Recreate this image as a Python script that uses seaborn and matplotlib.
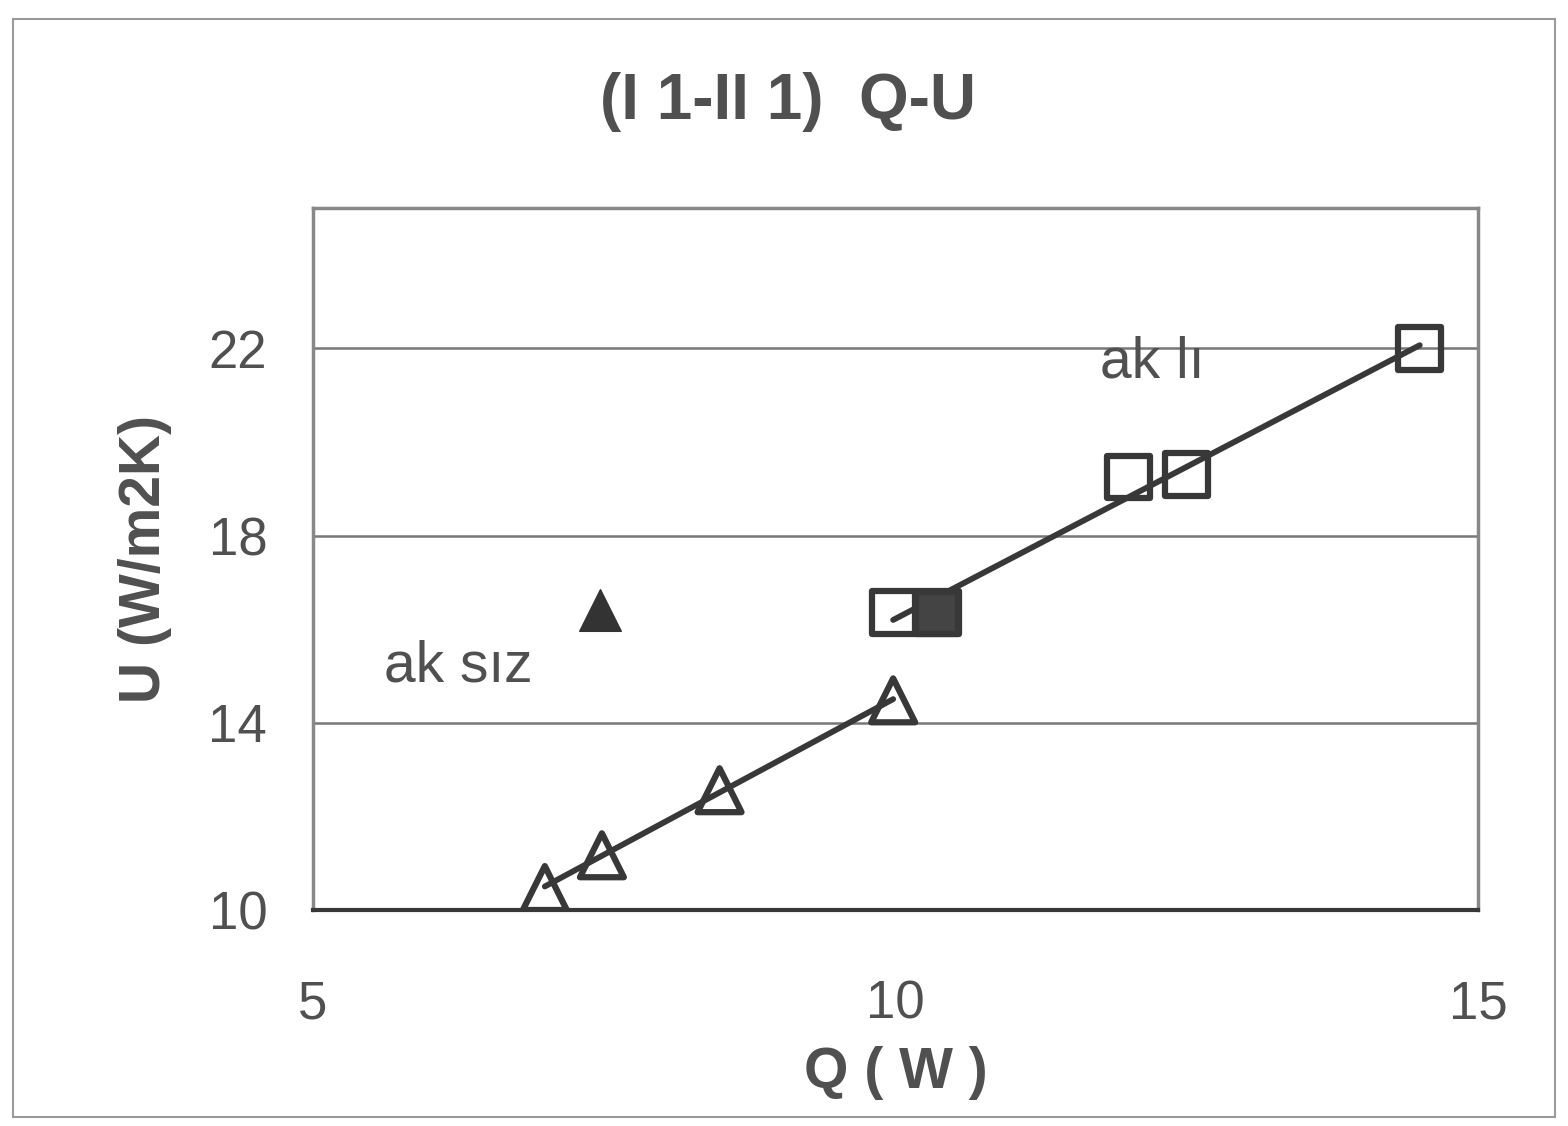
import matplotlib
matplotlib.use("Agg")
import matplotlib.pyplot as plt
import seaborn as sns
from matplotlib.patches import Rectangle

# series
tri_q = [6.99, 7.48, 8.49, 9.98]
tri_u = [10.47, 11.17, 12.56, 14.48]
sq_q = [9.98, 10.36, 12.0, 12.5, 14.5]
sq_u = [16.35, 16.35, 19.25, 19.3, 22.0]
solid_tri_q = [7.46]
solid_tri_u = [16.4]
solid_sq_q = [10.36]
solid_sq_u = [16.35]
x_ticks = [5, 10, 15]
y_ticks = [10, 14, 18, 22]

sns.set_theme(style="white")
plt.rcParams['font.family'] = ['Liberation Sans', 'DejaVu Sans']

ink = '#383838'
txt = '#505050'

fig = plt.figure(figsize=(15.68, 11.26), dpi=100)
ax = fig.add_axes([0.1996, 0.1918, 0.743, 0.6235])

# regression lines
sns.regplot(x=tri_q, y=tri_u, ax=ax, scatter=False, ci=None,
            line_kws=dict(color=ink, lw=4.2, zorder=3))
sns.regplot(x=sq_q, y=sq_u, ax=ax, scatter=False, ci=None,
            line_kws=dict(color=ink, lw=4.2, zorder=3))

# markers
sns.scatterplot(x=tri_q, y=tri_u, ax=ax, marker='^', s=1000,
                facecolor='none', edgecolor=ink, linewidth=4.5, zorder=4)
sns.scatterplot(x=sq_q, y=sq_u, ax=ax, marker='s', s=950,
                facecolor='none', edgecolor=ink, linewidth=4.5, zorder=4)
sns.scatterplot(x=solid_tri_q, y=solid_tri_u, ax=ax, marker='^', s=900,
                color='#333333', edgecolor='#333333', linewidth=1, zorder=4)
sns.scatterplot(x=solid_sq_q, y=solid_sq_u, ax=ax, marker='s', s=950,
                color='#444444', edgecolor=ink, linewidth=4.5, zorder=5)

ax.set_xlim(5, 15)
ax.set_ylim(10, 25)
ax.set_xticks(x_ticks)
ax.set_yticks(y_ticks)
ax.yaxis.grid(True, color='#777777', lw=1.8)
ax.set_axisbelow(True)

for side in ['top', 'right', 'left']:
    ax.spines[side].set_color('#888888')
    ax.spines[side].set_linewidth(2.5)
ax.spines['bottom'].set_color(ink)
ax.spines['bottom'].set_linewidth(3)

ax.tick_params(axis='x', direction='out', length=12, width=2, color=ink,
               pad=38, labelsize=38, labelcolor=txt)
ax.tick_params(axis='y', direction='out', length=5, width=1.5, color=ink,
               pad=28, labelsize=38, labelcolor=txt)

ax.set_xlabel('Q ( W )', fontsize=41, fontweight='bold', color=txt,
              labelpad=12)
ax.set_ylabel('U (W/m2K)', fontsize=41, fontweight='bold', color=txt,
              labelpad=26)

ax.text(6.25, 15.2, 'ak sız', fontsize=41, color=txt,
        ha='center', va='center')
ax.text(12.2, 21.7, 'ak lı', fontsize=41, color=txt,
        ha='center', va='center')

fig.text(788 / 1568, 1 - 102 / 1126, '(I 1-II 1)  Q-U', fontsize=46,
         fontweight='bold', color=txt, ha='center', va='center')

fig.patches.append(Rectangle((0.008, 0.008), 0.984, 0.975,
                             transform=fig.transFigure, fill=False,
                             edgecolor='#999999', lw=1.5))

fig.savefig('out.png', dpi=100)
